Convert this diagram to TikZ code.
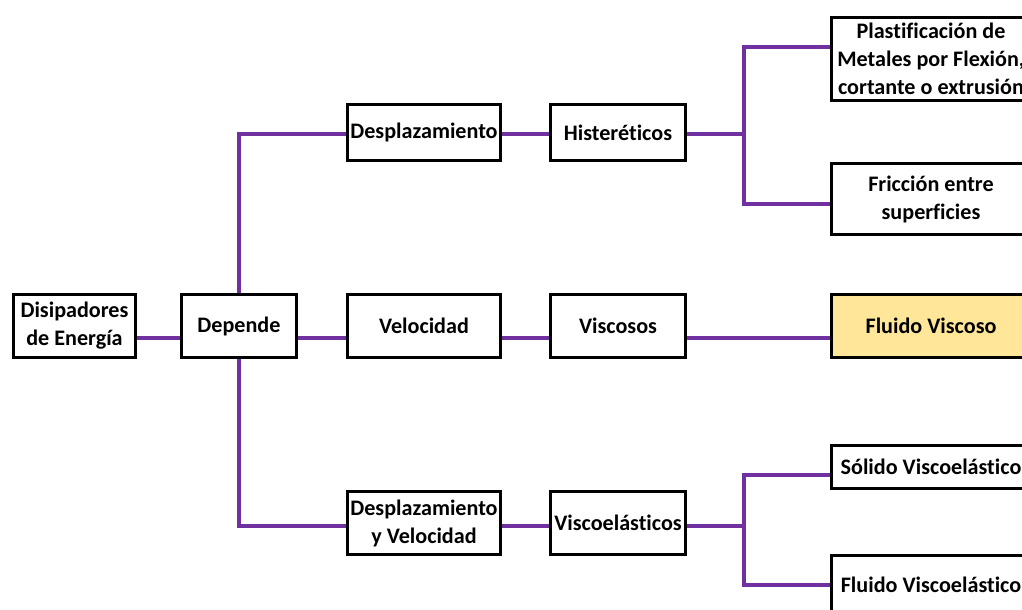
\documentclass[tikz,border=0pt]{standalone}
\usepackage{fontspec}
\setmainfont[Ligatures=NoCommon]{Carlito}
\usetikzlibrary{backgrounds}
\definecolor{linkpurple}{HTML}{7030A0}
\definecolor{fillyellow}{HTML}{FFE699}
\begin{document}
\begin{tikzpicture}[x=0.75pt,y=-0.75pt,
  box/.style={draw=black, line width=2.25pt, fill=white, align=center,
    inner sep=0pt, font=\bfseries\fontsize{16.6}{21}\selectfont},
  colA/.style={minimum width=91.5pt},
  colB/.style={minimum width=86.25pt},
  colC/.style={minimum width=114.75pt},
  colD/.style={minimum width=101.25pt},
  colE/.style={minimum width=149.25pt},
  link/.style={draw=linkpurple, line width=3pt}]
\useasboundingbox (0,0) rectangle (1022,610);
\clip (0,0) rectangle (1022,610);

% first column
\node[box, colA, minimum height=47.25pt] (dis) at (74.5,326) {Disipadores\\de Energía};
\node[box, colB, minimum height=47.25pt] (dep) at (239,326) {Depende};

% second column
\node[box, colC, minimum height=42pt]    (des) at (424,132.5) {Desplazamiento};
\node[box, colC, minimum height=47.25pt] (vel) at (424,326)   {Velocidad};
\node[box, colC, minimum height=47.25pt] (dyv) at (424,523)   {Desplazamiento\\y Velocidad};

% third column
\node[box, colD, minimum height=42pt]    (his) at (618,132.5) {Histeréticos};
\node[box, colD, minimum height=47.25pt] (vis) at (618,326)   {Viscosos};
\node[box, colD, minimum height=47.25pt] (vse) at (618,523)   {Viscoelásticos};

% last column
\node[box, colE, minimum height=62.25pt] (pla) at (931,59)  {Plastificación de\\Metales por Flexión,\\cortante o extrusión};
\node[box, colE, minimum height=53.25pt] (fri) at (931,199) {Fricción entre\\superficies};
\node[box, colE, minimum height=47.25pt, fill=fillyellow] (flv) at (931,326) {Fluido Viscoso};
\node[box, colE, minimum height=32.25pt] (sol) at (931,467) {Sólido Viscoelástico};
\node[box, colE, minimum height=44.25pt] (fve) at (931,585) {Fluido Viscoelástico};

\begin{scope}[on background layer]
  \draw[link] ([yshift=-9pt]dis.east) -- ([yshift=-9pt]dep.east);
  \draw[link] ([yshift=-9pt]dep.east) -- ([yshift=-9pt]vel.west);
  \draw[link] ([yshift=-9pt]vel.east) -- ([yshift=-9pt]vis.west);
  \draw[link] ([yshift=-9pt]vis.east) -- ([yshift=-9pt]flv.west);
  \draw[link] (dep.north) |- ([yshift=-1.5pt]des.west);
  \draw[link] (dep.south) |- ([yshift=-2.25pt]dyv.west);
  \draw[link] ([yshift=-1.5pt]des.east) -- ([yshift=-1.5pt]his.west);
  \draw[link] ([yshift=-2.25pt]dyv.east) -- ([yshift=-2.25pt]vse.west);
  % branch of the hysteretic devices
  \draw[link] ([yshift=-1.5pt]his.east) -- ++(57,0) coordinate (b1);
  \draw[link] ([yshift=9pt]pla.west) -| (b1) |- ([yshift=-3.75pt]fri.west);
  % branch of the viscoelastic devices
  \draw[link] ([yshift=-2.25pt]vse.east) -- ++(57,0) coordinate (b2);
  \draw[link] ([yshift=-6pt]sol.west) -| (b2) |- (fve.west);
\end{scope}
\end{tikzpicture}
\end{document}
